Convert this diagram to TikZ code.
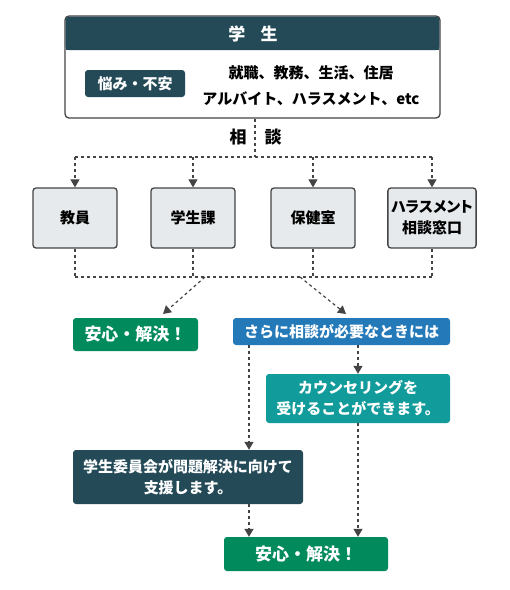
\documentclass[tikz,border=0pt]{standalone}
\usepackage{fontspec}
\newfontfamily\cjk{Noto Sans CJK JP}
\newfontfamily\cjkp[RawFeature=+palt]{Noto Sans CJK JP}
\usetikzlibrary{arrows.meta,positioning}

\definecolor{darkteal}{HTML}{244A58}
\definecolor{teal2}{HTML}{129B9B}
\definecolor{blue2}{HTML}{2479B8}
\definecolor{green2}{HTML}{018A5B}
\definecolor{lightbox}{HTML}{E7EAEC}
\definecolor{edge}{HTML}{444444}

\begin{document}
\begin{tikzpicture}[
    x=1pt, y=-1pt,
    font=\cjk\bfseries\fontsize{15}{21}\selectfont,
    % Stili
    office/.style={
        rectangle, draw=edge, line width=1.3pt, fill=lightbox,
        rounded corners=3pt, minimum width=84pt, minimum height=60pt,
        align=center, text=black
    },
    banner/.style={
        rectangle, rounded corners=3pt, text=white, align=center
    },
    big/.style={font=\cjk\bfseries\fontsize{17}{20}\selectfont},
    flow/.style={-{Triangle[width=9pt,length=8pt]}, dashed, line width=1.2pt, edge},
    link/.style={dashed, line width=1.2pt, edge}
]
\useasboundingbox (0,0) rectangle (510,590);

% Studente
\node[rectangle, draw=edge, line width=1.3pt, fill=white, rounded corners=4pt,
      minimum width=375pt, minimum height=102pt] (student) at (252.5,67) {};
\fill[darkteal, rounded corners=3pt] (65.7,16.7) rectangle (439.3,50);
\fill[darkteal] (65.7,40) rectangle (439.3,50);
\node[text=white, big] (title) at (253,34) {学\hspace{0.9em}生};
\node[banner, fill=darkteal, minimum width=100pt, minimum height=27pt] (worry) at (135,83.5) {悩み・不安};
\node[align=center, font=\cjk\bfseries\fontsize{15}{26}\selectfont] (topics) at (311,86) {就職、教務、生活、住居\\アルバイト、ハラスメント、etc};

% Consulto
\coordinate (split) at (255,157);
\draw[link] (student.south -| split) -- (split);
\node[big] (sou) at (238,137) {相};
\node[big] (dan) at (273,137) {談};

% Uffici
\node[office] (teacher) at (75,218) {教員};
\node[office] (affairs) at (193,218) {学生課};
\node[office] (health) at (313,218) {保健室};
\node[office, font=\cjkp\bfseries\fontsize{15}{21}\selectfont] (harass) at (432,218) {ハラスメント\\相談窓口};

\draw[link] (teacher.north |- split) -- (harass.north |- split);
\foreach \office in {teacher,affairs,health,harass} {
    \draw[flow] (\office.north |- split) -- (\office.north);
    \draw[link] (\office.south) -- (\office.south |- 0,277);
}
\draw[link] (teacher.south |- 0,277) -- (harass.south |- 0,277);

% Esiti
\node[banner, big, fill=green2, minimum width=125pt, minimum height=33pt] (relief1) at (135.5,334.5) {安心・解決！};
\node[banner, fill=blue2, minimum width=217pt, minimum height=27pt] (more) at (341.5,331.5) {さらに相談が必要なときには};
\coordinate (fork1) at (205,277);
\coordinate (fork2) at (300,277);
\draw[flow] (fork1) -- (163,314);
\draw[flow] (fork2) -- (346,314);

\node[banner, fill=teal2, minimum width=184pt, minimum height=49pt] (counsel) at (358,398.5)
    {カウンセリングを\\受けることができます。};
\node[banner, fill=darkteal, minimum width=230pt, minimum height=54pt] (committee) at (188,477)
    {学生委員会が問題解決に向けて\\支援します。};
\node[banner, big, fill=green2, minimum width=164pt, minimum height=34pt] (relief2) at (306,554) {安心・解決！};

\draw[flow] (more.south -| counsel.north) -- (counsel.north);
\draw[flow] (more.south -| 249,0) -- (committee.north -| 249,0);
\draw[flow] (committee.south -| 249,0) -- (relief2.north -| 249,0);
\draw[flow] (counsel.south) -- (relief2.north -| counsel.south);

\end{tikzpicture}
\end{document}
